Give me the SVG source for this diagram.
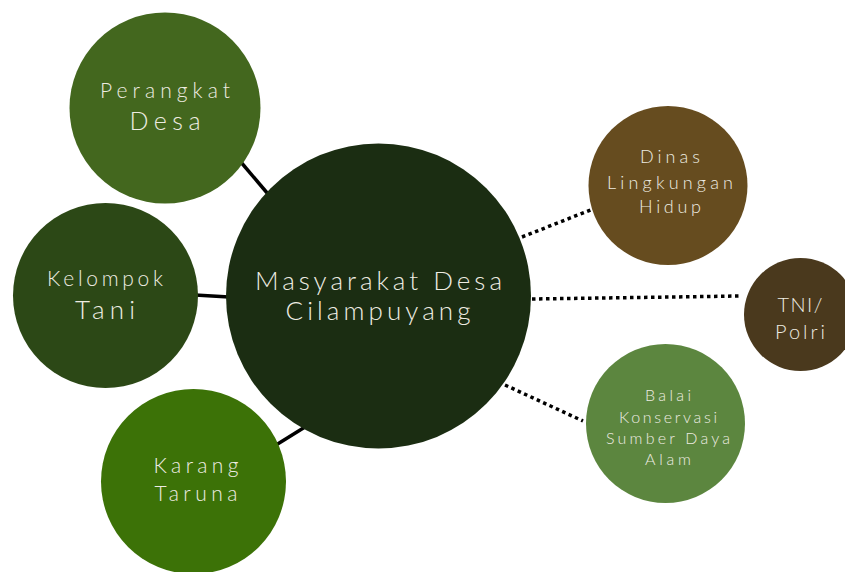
<svg xmlns="http://www.w3.org/2000/svg" width="845" height="572" viewBox="0 0 845 572">
<style>
.t{font-family:"Lato","Open Sans",sans-serif;font-weight:300;fill:#EEECE2;text-anchor:middle}
.solid{stroke:#000;stroke-width:3.5;fill:none}
.dot{stroke:#000;stroke-width:3.5;fill:none;stroke-dasharray:3.5 3.5}
</style>
<rect width="845" height="572" fill="#fff"/>
<g id="connectors">
<line class="solid" x1="240" y1="161" x2="268" y2="194"/>
<line class="solid" x1="195" y1="295" x2="229" y2="297"/>
<line class="solid" x1="276" y1="445" x2="305" y2="427"/>
<line class="dot" x1="522" y1="237" x2="593" y2="209"/>
<line class="dot" x1="532" y1="299" x2="740" y2="296"/>
<line class="dot" x1="505" y1="385" x2="583" y2="421"/>
</g>
<g id="perangkat-desa">
<circle cx="165" cy="108" r="95.5" fill="#43671E"/>
<text class="t" x="165" y="98" font-size="21" textLength="130" lengthAdjust="spacing">Perangkat</text>
<text class="t" x="165" y="130" font-size="25" textLength="71" lengthAdjust="spacing">Desa</text>
</g>
<g id="kelompok-tani">
<circle cx="105.5" cy="295.5" r="92.5" fill="#2C4816"/>
<text class="t" x="105" y="286" font-size="21" textLength="116" lengthAdjust="spacing">Kelompok</text>
<text class="t" x="105" y="319" font-size="26" textLength="60" lengthAdjust="spacing">Tani</text>
</g>
<g id="karang-taruna">
<circle cx="193.5" cy="481.5" r="92.5" fill="#3C7207"/>
<text class="t" x="196" y="473" font-size="21" textLength="85" lengthAdjust="spacing">Karang</text>
<text class="t" x="196" y="501" font-size="21" textLength="83" lengthAdjust="spacing">Taruna</text>
</g>
<g id="masyarakat">
<circle cx="378.5" cy="296" r="152.5" fill="#1B2D12"/>
<text class="t" x="378.5" y="290" font-size="26" textLength="247" lengthAdjust="spacing">Masyarakat Desa</text>
<text class="t" x="378" y="320" font-size="26" textLength="185" lengthAdjust="spacing">Cilampuyang</text>
</g>
<g id="dinas">
<circle cx="668" cy="185.5" r="79.5" fill="#664C1F"/>
<text class="t" x="670" y="163" font-size="18" textLength="60" lengthAdjust="spacing">Dinas</text>
<text class="t" x="670" y="189" font-size="18" textLength="126" lengthAdjust="spacing">Lingkungan</text>
<text class="t" x="670" y="213" font-size="18" textLength="62" lengthAdjust="spacing">Hidup</text>
</g>
<g id="tni-polri">
<circle cx="800.5" cy="314.5" r="56.5" fill="#4A391D"/>
<text class="t" x="800" y="312" font-size="20" textLength="45" lengthAdjust="spacing">TNI/</text>
<text class="t" x="800" y="339" font-size="20" textLength="50" lengthAdjust="spacing">Polri</text>
</g>
<g id="balai">
<circle cx="665.5" cy="423.5" r="79.5" fill="#5C863F"/>
<text class="t" x="668" y="401" font-size="16" textLength="46" lengthAdjust="spacing">Balai</text>
<text class="t" x="668" y="423" font-size="16" textLength="98" lengthAdjust="spacing">Konservasi</text>
<text class="t" x="668" y="444" font-size="16" textLength="124" lengthAdjust="spacing">Sumber Daya</text>
<text class="t" x="668" y="465" font-size="16" textLength="46" lengthAdjust="spacing">Alam</text>
</g>
</svg>
